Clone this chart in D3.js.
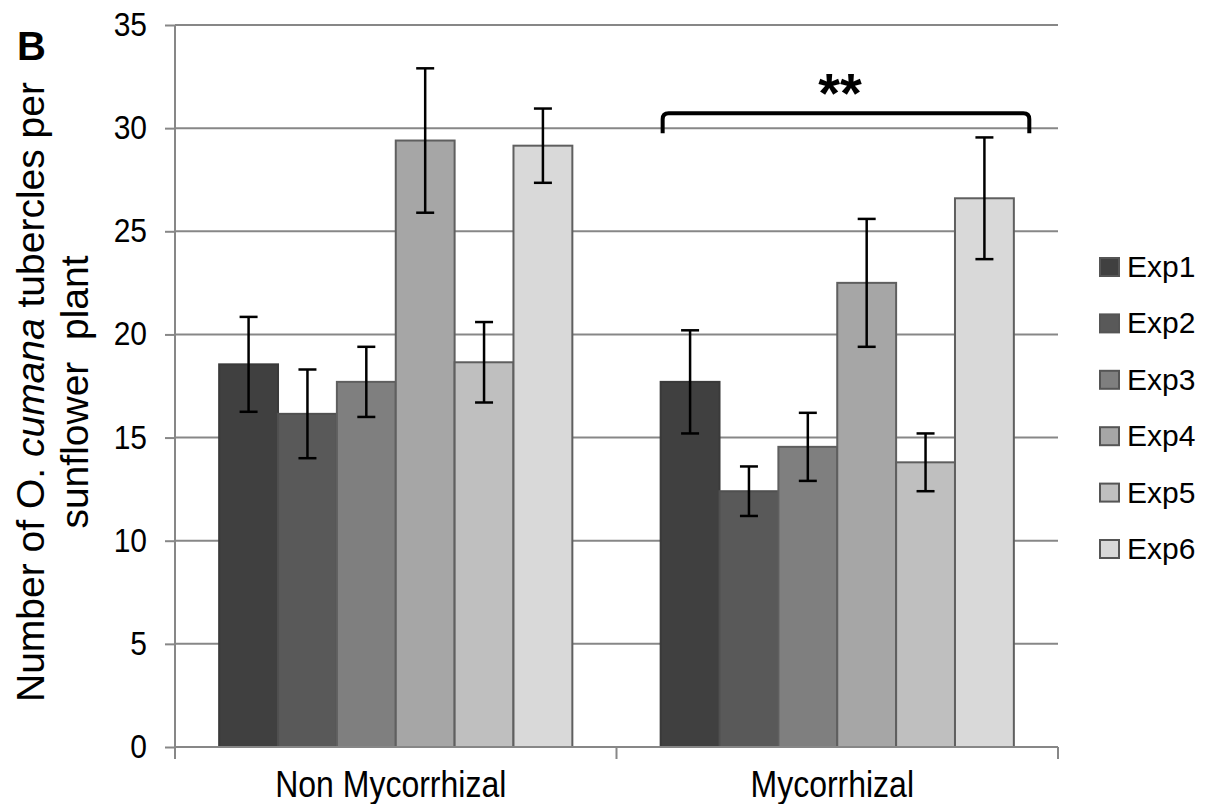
<!DOCTYPE html>
<html>
<head>
<meta charset="utf-8">
<script src="https://cdn.jsdelivr.net/npm/d3@7"></script>
<style>
  html, body { margin: 0; padding: 0; background: #fff; }
  svg { display: block; font-family: "Liberation Sans", Arial, sans-serif; }
</style>
</head>
<body>
<svg id="chart" width="1209" height="804"></svg>
<script>
// ---- data ----
const categories = ["Non Mycorrhizal", "Mycorrhizal"];
const seriesNames = ["Exp1", "Exp2", "Exp3", "Exp4", "Exp5", "Exp6"];
const nonMycMeans = [18.55, 16.15, 17.7, 29.4, 18.65, 29.15];
const nonMycErrors = [2.3, 2.15, 1.7, 3.5, 1.95, 1.8];
const mycMeans = [17.7, 12.4, 14.55, 22.5, 13.8, 26.6];
const mycErrors = [2.5, 1.2, 1.65, 3.1, 1.4, 2.95];
const yTicks = [0, 5, 10, 15, 20, 25, 30, 35];
const seriesColors = ["#404040", "#595959", "#7f7f7f", "#a6a6a6", "#bfbfbf", "#d9d9d9"];
const significance = { category: "Mycorrhizal", label: "**" };

const means = [nonMycMeans, mycMeans];
const errors = [nonMycErrors, mycErrors];

const svg = d3.select("#chart");
const pL = 175, pR = 1058, pT = 25, pB = 747;

const y = d3.scaleLinear().domain([0, 35]).range([pB, pT]);
const x0 = d3.scaleBand().domain(categories).range([pL, pR]).padding(0);
const bw = x0.bandwidth();
const x1 = d3.scaleBand().domain(seriesNames).range([0.1 * bw, 0.9 * bw]).padding(0);

const grid = "#878787";

// gridlines
svg.append("g").selectAll("line").data(yTicks.filter(t => t > 0)).join("line")
  .attr("x1", pL).attr("x2", pR)
  .attr("y1", d => y(d)).attr("y2", d => y(d))
  .attr("stroke", grid).attr("stroke-width", 2);

// y axis
const yAxis = svg.append("g").attr("transform", `translate(${pL},0)`)
  .call(d3.axisLeft(y).tickValues(yTicks).tickSize(10).tickPadding(18).tickFormat(d3.format("d")));
yAxis.select(".domain").attr("stroke", grid).attr("stroke-width", 2).attr("d", `M0,${pT}V${pB + 1}`);
yAxis.selectAll(".tick line").attr("stroke", grid).attr("stroke-width", 2);
yAxis.selectAll(".tick text").attr("font-size", 30).attr("fill", "#000")
  .attr("font-family", "'Liberation Sans', Arial, sans-serif")
  .attr("transform", "scale(1,1.1)")
  .attr("y", function(d) { return 0; })
  .each(function() {
    const t = d3.select(this);
    const parent = d3.select(this.parentNode);
    // keep vertical centring after scaling: tick group translate holds the y position
    t.attr("dy", "0.32em");
  });

// bars
const groups = svg.append("g").selectAll("g").data(categories).join("g")
  .attr("transform", d => `translate(${x0(d)},0)`);

groups.each(function(cat, ci) {
  const g = d3.select(this);
  const rows = seriesNames.map((s, i) => ({ s, i, v: means[ci][i], e: errors[ci][i] }));
  g.selectAll("rect").data(rows).join("rect")
    .attr("x", d => x1(d.s)).attr("width", x1.bandwidth())
    .attr("y", d => y(d.v)).attr("height", d => y(0) - y(d.v))
    .attr("fill", d => seriesColors[d.i])
    .attr("stroke", d => d.i < 2 ? d3.color(seriesColors[d.i]).darker(0.3) : "#5f5f5f")
    .attr("stroke-width", 2);
  const cap = 9;
  const eb = g.selectAll("g.eb").data(rows).join("g").attr("class", "eb")
    .attr("stroke", "#000").attr("stroke-width", 2.5);
  eb.append("line")
    .attr("x1", d => x1(d.s) + x1.bandwidth() / 2).attr("x2", d => x1(d.s) + x1.bandwidth() / 2)
    .attr("y1", d => y(d.v + d.e)).attr("y2", d => y(d.v - d.e));
  eb.append("line")
    .attr("x1", d => x1(d.s) + x1.bandwidth() / 2 - cap).attr("x2", d => x1(d.s) + x1.bandwidth() / 2 + cap)
    .attr("y1", d => y(d.v + d.e)).attr("y2", d => y(d.v + d.e));
  eb.append("line")
    .attr("x1", d => x1(d.s) + x1.bandwidth() / 2 - cap).attr("x2", d => x1(d.s) + x1.bandwidth() / 2 + cap)
    .attr("y1", d => y(d.v - d.e)).attr("y2", d => y(d.v - d.e));
});

// x axis
const xAxisG = svg.append("g");
xAxisG.append("line").attr("x1", pL - 1).attr("x2", pR).attr("y1", pB).attr("y2", pB)
  .attr("stroke", grid).attr("stroke-width", 2);
const xTicks = categories.map(c => x0(c)).concat([pR]);
xAxisG.selectAll("line.t").data(xTicks).join("line").attr("class", "t")
  .attr("x1", d => d).attr("x2", d => d).attr("y1", pB).attr("y2", pB + 12)
  .attr("stroke", grid).attr("stroke-width", 2);
xAxisG.selectAll("text").data(categories).join("text")
  .attr("transform", d => `translate(${x0(d) + bw / 2 - 5},797) scale(1,1.15)`)
  .attr("text-anchor", "middle").attr("font-size", 32).text(d => d);

// significance bracket
const bx1 = x0(significance.category) + 0.1 * bw + 2;
const bx2 = x0(significance.category) + 0.935 * bw;
const by = y(30) - 15, byEnd = y(30) + 5, r = 6;
svg.append("path")
  .attr("d", `M${bx1},${byEnd}V${by + r}Q${bx1},${by} ${bx1 + r},${by}H${bx2 - r}Q${bx2},${by} ${bx2},${by + r}V${byEnd}`)
  .attr("fill", "none").attr("stroke", "#000").attr("stroke-width", 4);
svg.append("text").attr("x", (bx1 + bx2) / 2 - 6).attr("y", 112)
  .attr("text-anchor", "middle").attr("font-size", 56).attr("font-weight", "bold")
  .text(significance.label);

// legend
const leg = svg.append("g");
seriesNames.forEach((s, i) => {
  const cy = 267 + i * 56.4;
  leg.append("rect").attr("x", 1100).attr("y", cy - 9).attr("width", 19).attr("height", 18)
    .attr("fill", seriesColors[i]).attr("stroke", "#555").attr("stroke-width", 2);
  leg.append("text").attr("x", 1127).attr("y", cy + 10).attr("font-size", 30).text(s);
});

// panel letter
svg.append("text").attr("x", 17).attr("y", 60).attr("font-size", 40).attr("font-weight", "bold").text("B");

// y axis title
const t1 = svg.append("text").attr("transform", "translate(44,392) rotate(-90)")
  .attr("text-anchor", "middle").attr("font-size", 39);
t1.append("tspan").text("Number of O. ");
t1.append("tspan").attr("font-style", "italic").text("cumana");
t1.append("tspan").text(" tubercles per");
svg.append("text").attr("transform", "translate(88,392) rotate(-90)")
  .attr("text-anchor", "middle").attr("font-size", 39)
  .style("white-space", "pre").text("sunflower  plant");
</script>
</body>
</html>
